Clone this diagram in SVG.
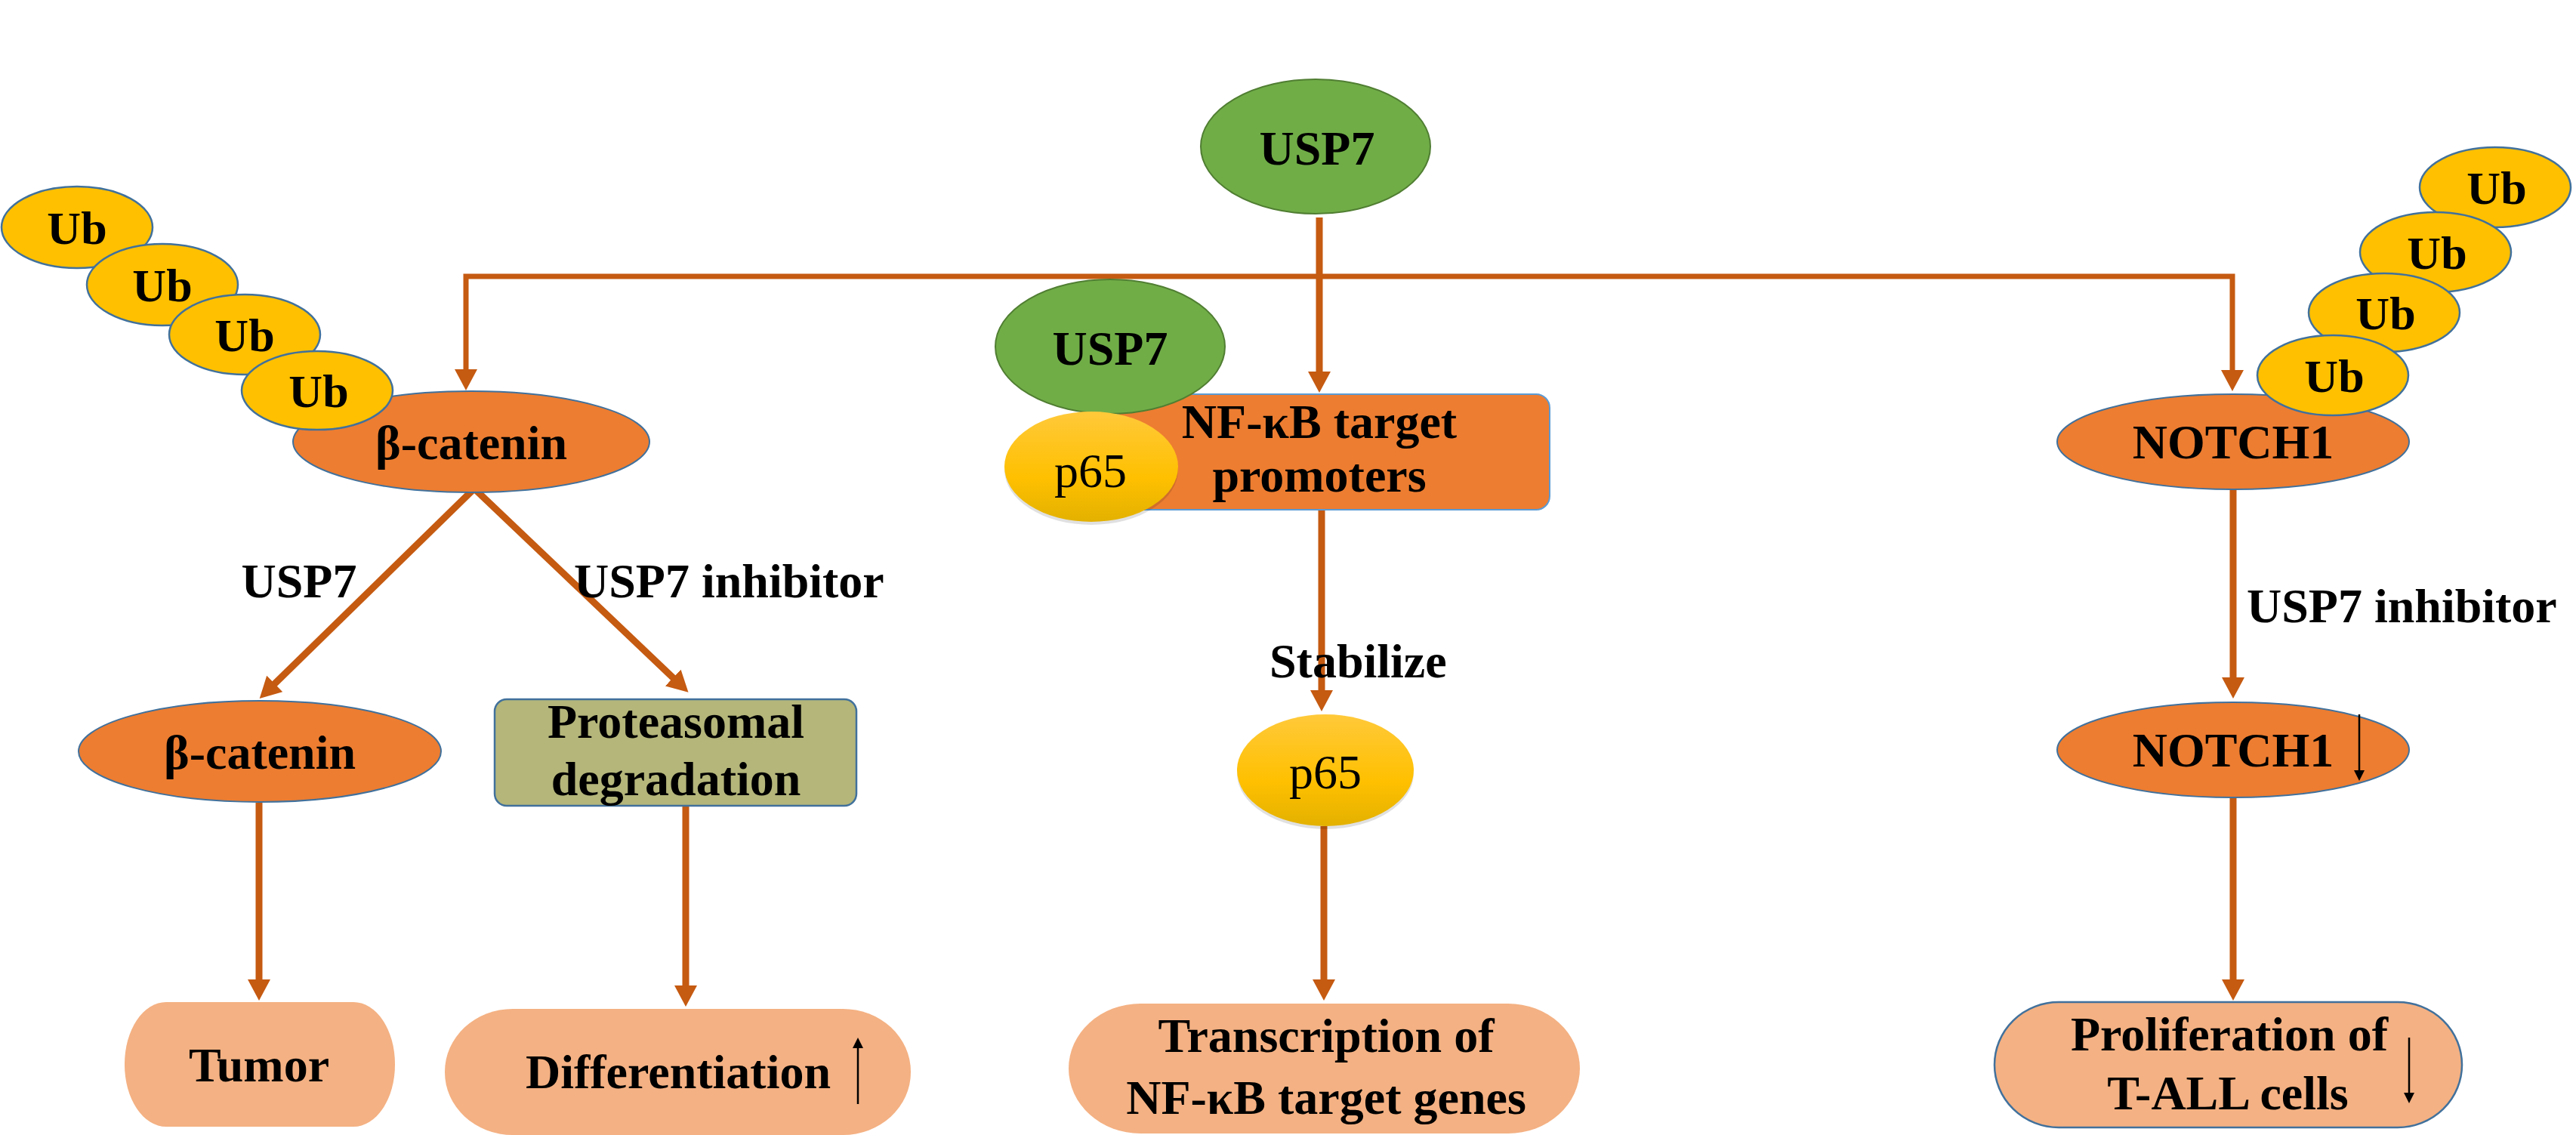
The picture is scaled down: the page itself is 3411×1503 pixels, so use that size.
<svg xmlns="http://www.w3.org/2000/svg" width="3411" height="1503" viewBox="0 0 3411 1503">
<style>
.t{font-family:"Liberation Serif","Times New Roman",serif;font-weight:bold;font-size:64px;fill:#000;text-anchor:middle}
.ts{font-family:"Liberation Serif","Times New Roman",serif;font-weight:bold;font-size:64px;fill:#000}
.tp{font-family:"Liberation Serif","Times New Roman",serif;font-size:64px;fill:#000;text-anchor:middle}
.ub{fill:#FFC000;stroke:#41719C;stroke-width:2.5}
.ubt{font-family:"Liberation Serif","Times New Roman",serif;font-weight:bold;font-size:62px;fill:#000;text-anchor:middle}
.org{fill:#ED7D31;stroke:#41719C;stroke-width:2}
.grn{fill:#70AD47;stroke:#507E32;stroke-width:2}
.out{fill:#F4B183}
.conn{fill:none;stroke:#C55A11;stroke-width:9}
.thin{fill:none;stroke:#000;stroke-width:2.5}
</style>
<defs>
<marker id="ah" markerUnits="userSpaceOnUse" markerWidth="30" markerHeight="30" refX="8" refY="15" orient="auto">
<path d="M0,0 L28,15 L0,30 z" fill="#C55A11"/>
</marker>
<marker id="bh" markerUnits="userSpaceOnUse" markerWidth="14" markerHeight="14" refX="2" refY="7" orient="auto">
<path d="M0,0 L14,7 L0,14 z" fill="#000"/>
</marker>
<linearGradient id="gp" x1="0" y1="0" x2="0" y2="1">
<stop offset="0" stop-color="#FFC93A"/>
<stop offset="0.6" stop-color="#FFC000"/>
<stop offset="1" stop-color="#E3B100"/>
</linearGradient>
</defs>

<g id="connectors">
<path class="conn" d="M1747 288 V500" marker-end="url(#ah)"/>
<path class="conn" style="stroke-width:7" d="M1747 366 H617 V497" marker-end="url(#ah)"/>
<path class="conn" style="stroke-width:7" d="M1747 366 H2956 V498" marker-end="url(#ah)"/>
<path class="conn" d="M628 647 L358 911" marker-end="url(#ah)"/>
<path class="conn" d="M628 647 L897 903" marker-end="url(#ah)"/>
<path class="conn" d="M343 1063 V1305" marker-end="url(#ah)"/>
<path class="conn" d="M908 1067 V1313" marker-end="url(#ah)"/>
<path class="conn" d="M1750 675 V922" marker-end="url(#ah)"/>
<path class="conn" d="M1753 1094 V1305" marker-end="url(#ah)"/>
<path class="conn" d="M2957 648 V905" marker-end="url(#ah)"/>
<path class="conn" d="M2957 1056 V1305" marker-end="url(#ah)"/>
</g>

<g id="labels">
<text class="t" x="396" y="791">USP7</text>
<text class="ts" x="760" y="791">USP7 inhibitor</text>
<text class="ts" x="1681" y="897">Stabilize</text>
<text class="ts" x="2975" y="824">USP7 inhibitor</text>
</g>

<g id="usp7-top">
<ellipse class="grn" cx="1742" cy="194" rx="152" ry="89"/>
<text class="t" x="1744" y="218">USP7</text>
</g>

<g id="beta-catenin-top">
<ellipse class="org" cx="624" cy="585" rx="236" ry="67"/>
<text class="t" x="624" y="608">β-catenin</text>
</g>

<g id="ub-left">
<ellipse class="ub" cx="102" cy="301" rx="100" ry="54"/>
<text class="ubt" x="102" y="323">Ub</text>
<ellipse class="ub" cx="215" cy="377" rx="100" ry="54"/>
<text class="ubt" x="215" y="399">Ub</text>
<ellipse class="ub" cx="324" cy="443" rx="100" ry="53"/>
<text class="ubt" x="324" y="465">Ub</text>
<ellipse class="ub" cx="420" cy="517" rx="100" ry="52"/>
<text class="ubt" x="422" y="539">Ub</text>
</g>

<g id="nfkb-promoters">
<rect class="org" x="1480" y="522" width="572" height="153" rx="18" style="stroke:#5B9BD5"/>
<text class="t" x="1747" y="580">NF-κB target</text>
<text class="t" x="1747" y="651">promoters</text>
</g>

<g id="usp7-mid">
<ellipse class="grn" cx="1470" cy="459" rx="152" ry="89"/>
<text class="t" x="1470" y="483">USP7</text>
</g>

<g id="p65-mid">
<ellipse cx="1445" cy="622" rx="115" ry="73" fill="#000" opacity="0.12"/>
<ellipse cx="1445" cy="618" rx="115" ry="73" fill="url(#gp)"/>
<text class="tp" x="1444" y="645">p65</text>
</g>

<g id="notch1-top">
<ellipse class="org" cx="2957" cy="585" rx="233" ry="63"/>
<text class="t" x="2957" y="607">NOTCH1</text>
</g>

<g id="ub-right">
<ellipse class="ub" cx="3304" cy="248" rx="100" ry="53"/>
<text class="ubt" x="3306" y="270">Ub</text>
<ellipse class="ub" cx="3225" cy="334" rx="100" ry="53"/>
<text class="ubt" x="3227" y="356">Ub</text>
<ellipse class="ub" cx="3157" cy="414" rx="100" ry="52"/>
<text class="ubt" x="3159" y="436">Ub</text>
<ellipse class="ub" cx="3089" cy="497" rx="100" ry="53"/>
<text class="ubt" x="3091" y="519">Ub</text>
</g>

<g id="beta-catenin-low">
<ellipse class="org" cx="344" cy="995" rx="240" ry="67"/>
<text class="t" x="344" y="1018">β-catenin</text>
</g>

<g id="proteasomal">
<rect x="655" y="926" width="479" height="141" rx="16" fill="#B4B67A" stroke="#41719C" stroke-width="2.5"/>
<text class="t" x="895" y="977">Proteasomal</text>
<text class="t" x="895" y="1053">degradation</text>
</g>

<g id="p65-low">
<ellipse cx="1755" cy="1024" rx="117" ry="74" fill="#000" opacity="0.12"/>
<ellipse cx="1755" cy="1020" rx="117" ry="74" fill="url(#gp)"/>
<text class="tp" x="1755" y="1044">p65</text>
</g>

<g id="notch1-low">
<ellipse class="org" cx="2957" cy="993" rx="233" ry="63"/>
<text class="t" x="2957" y="1015">NOTCH1</text>
<path class="thin" d="M3124 946 V1022" marker-end="url(#bh)"/>
</g>

<g id="tumor">
<rect class="out" x="165" y="1327" width="358" height="165" rx="55" ry="82"/>
<text class="t" x="343" y="1432">Tumor</text>
</g>

<g id="differentiation">
<rect class="out" x="589" y="1336" width="617" height="167" rx="90" ry="83"/>
<text class="t" x="898" y="1441">Differentiation</text>
<path class="thin" d="M1136 1462 V1386" marker-end="url(#bh)"/>
</g>

<g id="transcription">
<rect class="out" x="1415" y="1329" width="677" height="172" rx="95" ry="86"/>
<text class="t" x="1756" y="1393">Transcription of</text>
<text class="t" x="1756" y="1475">NF-κB target genes</text>
</g>

<g id="proliferation">
<rect class="out" x="2641" y="1327" width="619" height="166" rx="85" ry="83" stroke="#41719C" stroke-width="2.5"/>
<text class="t" x="2952" y="1391">Proliferation of</text>
<text class="t" x="2950" y="1469">T-ALL cells</text>
<path class="thin" d="M3190 1374 V1449" marker-end="url(#bh)"/>
</g>
</svg>
